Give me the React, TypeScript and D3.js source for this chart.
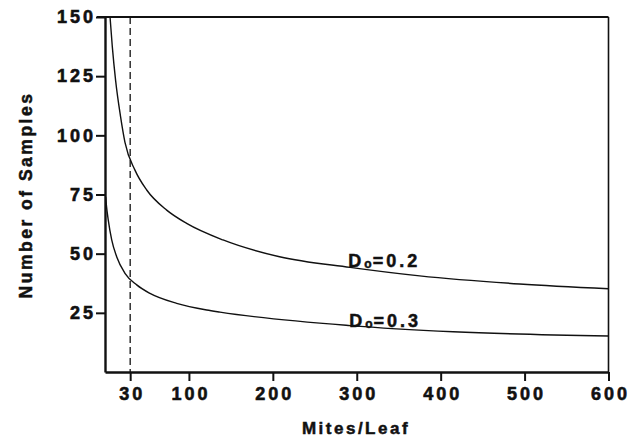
import { useEffect, useRef } from "react";
import * as d3 from "d3";

// values (mites per leaf -> number of samples)
const mitesD02 = [6, 8.7, 12.7, 18.5, 23.8, 35.7, 49.7, 73.5, 97.3, 140.6, 208, 292, 375, 494, 600];
const samplesD02 = [150, 137.5, 123, 108, 97, 85.3, 76.9, 68.4, 62.8, 55.8, 48.7, 44.2, 40.6, 37.2, 35.2];

const mitesD03 = [0.8, 1.8, 3.9, 8, 13.9, 23.8, 37.8, 53.6, 85.4, 121.2, 137, 292, 415, 600];
const samplesD03 = [74, 70, 64.2, 55.8, 48.7, 41.7, 36.8, 33.2, 29, 26.2, 25.3, 19.6, 17.0, 15.2];

const xTicks = [30, 100, 200, 300, 400, 500, 600];
const yTicks = [25, 50, 75, 100, 125, 150];
const cutoff = 30;

const labels = [
  { x: 290, y: 44.5, value: "0.2" },
  { x: 291, y: 19.2, value: "0.3" },
];

const W = 641;
const H = 439;
const FONT = "'Liberation Sans', Arial, Helvetica, sans-serif";

function App() {
  const svgRef = useRef<SVGSVGElement>(null);

  useEffect(() => {
    const svg = d3.select(svgRef.current);
    svg.selectAll("*").remove();

    const x = d3.scaleLinear().domain([0, 600]).range([105, 608.5]);
    const y = d3.scaleLinear().domain([0, 150]).range([372, 17]);

    svg
      .append("clipPath")
      .attr("id", "plot")
      .append("rect")
      .attr("x", x(0))
      .attr("y", y(150))
      .attr("width", x(600) - x(0))
      .attr("height", y(0) - y(150));

    const line = d3
      .line<[number, number]>()
      .x(d => x(d[0]))
      .y(d => y(d[1]))
      .curve(d3.curveMonotoneX);

    const series = [
      d3.zip(mitesD02, samplesD02) as [number, number][],
      d3.zip(mitesD03, samplesD03) as [number, number][],
    ];

    svg
      .selectAll(".curve")
      .data(series)
      .join("path")
      .attr("class", "curve")
      .attr("clip-path", "url(#plot)")
      .attr("d", d => line(d))
      .attr("fill", "none")
      .attr("stroke", "#111")
      .attr("stroke-width", 1.4);

    // dashed reference line
    svg
      .append("line")
      .attr("x1", x(cutoff))
      .attr("x2", x(cutoff))
      .attr("y1", y(150))
      .attr("y2", y(0))
      .attr("stroke", "#111")
      .attr("stroke-width", 1.3)
      .attr("stroke-dasharray", "7,4");

    // frame
    svg
      .append("line")
      .attr("x1", x(0) - 8)
      .attr("x2", x(600))
      .attr("y1", y(150))
      .attr("y2", y(150))
      .attr("stroke", "#111")
      .attr("stroke-width", 2.2);
    svg
      .append("line")
      .attr("x1", x(600))
      .attr("x2", x(600))
      .attr("y1", y(150))
      .attr("y2", y(0))
      .attr("stroke", "#111")
      .attr("stroke-width", 1.6);

    const xAxis = d3.axisBottom(x).tickValues(xTicks).tickSize(9).tickSizeOuter(0).tickPadding(6);
    const gx = svg.append("g").attr("transform", `translate(0,${y(0)})`).call(xAxis);

    const yAxis = d3.axisLeft(y).tickValues(yTicks).tickSize(9).tickSizeOuter(0).tickPadding(3);
    const gy = svg.append("g").attr("transform", `translate(${x(0)},0)`).call(yAxis);

    [gx, gy].forEach(g => {
      g.select(".domain").attr("stroke", "#111").attr("stroke-width", 2.4);
      g.selectAll(".tick line").attr("stroke", "#111").attr("stroke-width", 2);
      g.selectAll(".tick text")
        .attr("fill", "#111")
        .attr("stroke", "#111")
        .attr("stroke-width", 0.6)
        .style("font-family", FONT)
        .style("font-weight", "bold")
        .style("font-size", "18px")
        .style("letter-spacing", "3px");
    });
    gx.selectAll(".tick text").attr("dx", "1.5px");
    gy.selectAll(".tick text").attr("dx", "3px");

    svg
      .append("text")
      .attr("x", 356)
      .attr("y", 434)
      .attr("text-anchor", "middle")
      .attr("fill", "#111")
      .attr("stroke", "#111")
      .attr("stroke-width", 0.5)
      .style("font-family", FONT)
      .style("font-weight", "bold")
      .style("font-size", "17px")
      .style("letter-spacing", "2.5px")
      .text("Mites/Leaf");

    svg
      .append("text")
      .attr("transform", "translate(32,195) rotate(-90)")
      .attr("text-anchor", "middle")
      .attr("fill", "#111")
      .attr("stroke", "#111")
      .attr("stroke-width", 0.5)
      .style("font-family", FONT)
      .style("font-weight", "bold")
      .style("font-size", "17.5px")
      .style("letter-spacing", "2.5px")
      .text("Number of Samples");

    const lab = svg
      .selectAll(".dlabel")
      .data(labels)
      .join("text")
      .attr("class", "dlabel")
      .attr("x", d => x(d.x))
      .attr("y", d => y(d.y))
      .attr("fill", "#111")
      .attr("stroke", "#111")
      .attr("stroke-width", 0.5)
      .style("font-family", FONT)
      .style("font-weight", "bold")
      .style("font-size", "18px")
      .style("letter-spacing", "3px");
    lab.append("tspan").text("D");
    lab.append("tspan").style("font-size", "12px").style("letter-spacing", "1px").attr("dy", 1).text("o");
    lab.append("tspan").attr("dy", -1).text(d => "=" + d.value);
  }, []);

  return (
    <svg
      ref={svgRef}
      width={W}
      height={H}
      style={{ position: "absolute", left: 0, top: 0, background: "#fff" }}
    />
  );
}

export default App;
